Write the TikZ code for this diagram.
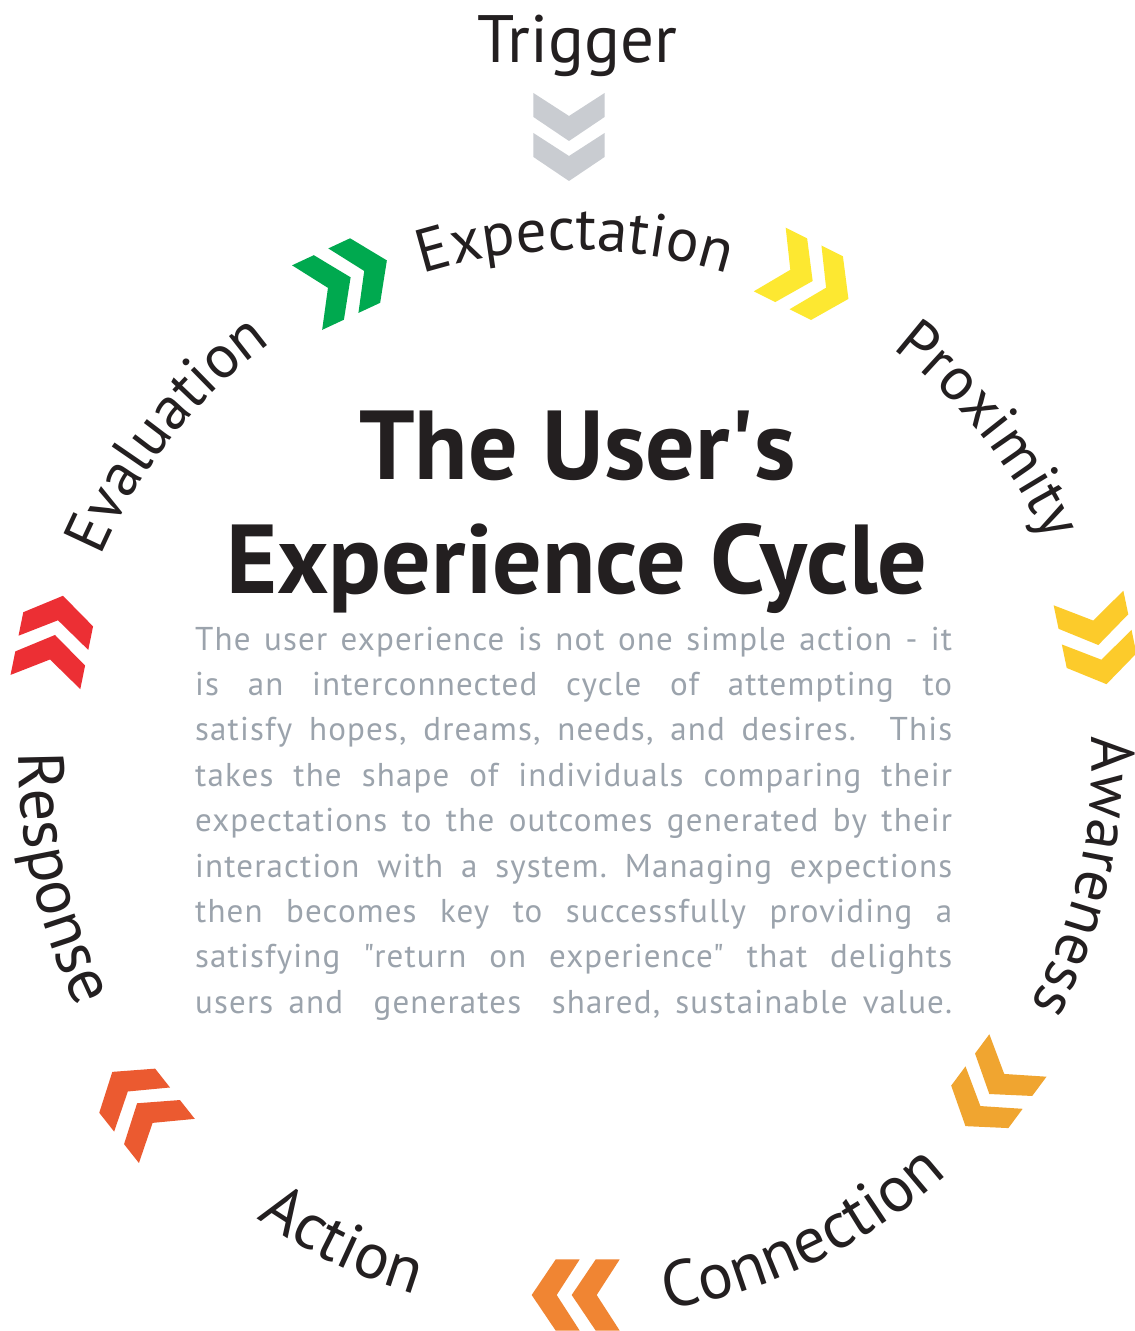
\documentclass[tikz,border=0pt]{standalone}
\usepackage{fontspec}
\setmainfont{PT Sans}
\usetikzlibrary{decorations.text}
\frenchspacing

\definecolor{ink}{HTML}{231F20}
\definecolor{bodygray}{HTML}{9BA3AC}
\definecolor{trigrey}{HTML}{C9CCD1}
\definecolor{cgreen}{HTML}{00A94F}
\definecolor{cyellow}{HTML}{FDE831}
\definecolor{cgold}{HTML}{FCCB2B}
\definecolor{corange}{HTML}{F0A530}
\definecolor{cdeeporange}{HTML}{F08533}
\definecolor{credorange}{HTML}{EB5A30}
\definecolor{cred}{HTML}{EC2F34}

\newfontfamily\bodyfamily[LetterSpace=3.5]{PT Sans}
\newcommand\ringfont{\fontsize{61}{61}\selectfont}
\newcommand\lowringfont{\fontsize{65}{65}\selectfont}
\newcommand\bodyfont{\bodyfamily\fontsize{33}{45}\selectfont}

% label on the upper part of the ring: runs clockwise, letters face outward
\newcommand\outerlabel[3]{%
  \path[decorate, decoration={text along path, text align=center,
        text color=ink, text={|\ringfont|#3}}]
    ({#1+40}:#2) arc[start angle={#1+40}, end angle={#1-40}, radius=#2];}
% label on the lower part of the ring: runs counter-clockwise, letters face inward
\newcommand\innerlabel[3]{%
  \path[decorate, decoration={text along path, text align=center,
        text color=ink, text={|\lowringfont|#3}}]
    ({#1-40}:#2) arc[start angle={#1-40}, end angle={#1+40}, radius=#2];}

\tikzset{
  pics/chevrons/.style={code={
    \foreach \a in {4,44}{
      \fill[#1] (\a,0) -- (\a-24,35.6) -- (\a-48,35.6) -- (\a-25,0)
        -- (\a-48,-35.6) -- (\a-24,-35.6) -- cycle;
    }
  }},
  bodyline/.style={anchor=base west, inner sep=0pt, text=bodygray, font=\bodyfont},
  titleline/.style={anchor=base, inner sep=0pt, text=ink, font=\fontsize{98}{98}\selectfont\bfseries},
}

\begin{document}
\begin{tikzpicture}[x=1pt,y=1pt]
\useasboundingbox (-575,-571) rectangle (560,760);
\clip (-575,-571) rectangle (560,760);
\fill[white] (-575,-571) rectangle (560,760);

% entry point
\node[anchor=base, inner sep=0pt, text=ink, font=\fontsize{67}{67}\selectfont] (trigger) at (2,697) {Trigger};
\pic[rotate=-90] (trigarrow) at (-6,623) {chevrons=trigrey};

% the seven stages, clockwise from the top
\outerlabel{90}{510}{Expectation}
\outerlabel{38.57}{520}{Proximity}
\outerlabel{-12.86}{517}{Awareness}
\innerlabel{-64.29}{557}{Connection}
\innerlabel{-115.71}{558}{Action}
\innerlabel{192.86}{556}{Response}
\outerlabel{141.43}{516}{Evaluation}

% arrows between the stages
\pic[rotate=25]     (a1) at (-228,481)     {chevrons=cgreen};
\pic[rotate=-26.6]  (a2) at (234.1,480.8)  {chevrons=cyellow};
\pic[rotate=-78.2]  (a3) at (522.5,118.9)  {chevrons=cgold};
\pic[rotate=-126.6] (a4) at (416.7,-330.8) {chevrons=corange};
\pic[rotate=180]    (a5) at (0.7,-535)     {chevrons=cdeeporange};
\pic[rotate=128.3]  (a6) at (-435.4,-346.4){chevrons=credorange};
\pic[rotate=78.5]   (a7) at (-520.8,121.1) {chevrons=cred};

% title
\node[titleline] (title1) at (2.5,280) {The User\textquotesingle s};
\node[titleline] (title2) at (2,167) {Experience Cycle};

% description, justified line by line
\node[bodyline] (b1) at (-380,110)   {\makebox[757pt][s]{The user experience is not one simple action - it}};
\node[bodyline] (b2) at (-380,64.6)  {\makebox[757pt][s]{is an interconnected cycle of attempting to}};
\node[bodyline] (b3) at (-380,19.2)  {\makebox[757pt][s]{satisfy hopes, dreams, needs, and desires.\ \ This}};
\node[bodyline] (b4) at (-380,-26.2) {\makebox[757pt][s]{takes the shape of individuals comparing their}};
\node[bodyline] (b5) at (-380,-71.6) {\makebox[757pt][s]{expectations to the outcomes generated by their}};
\node[bodyline] (b6) at (-380,-117)  {\makebox[757pt][s]{interaction with a system. Managing expections}};
\node[bodyline] (b7) at (-380,-162.4){\makebox[757pt][s]{then becomes key to successfully providing a}};
\node[bodyline] (b8) at (-380,-207.8){\makebox[757pt][s]{satisfying \textquotedbl return on experience\textquotedbl{} that delights}};
\node[bodyline] (b9) at (-380,-253.2){\makebox[757pt][s]{users and\ \ generates\ \ shared, sustainable value.}};
\end{tikzpicture}
\end{document}
